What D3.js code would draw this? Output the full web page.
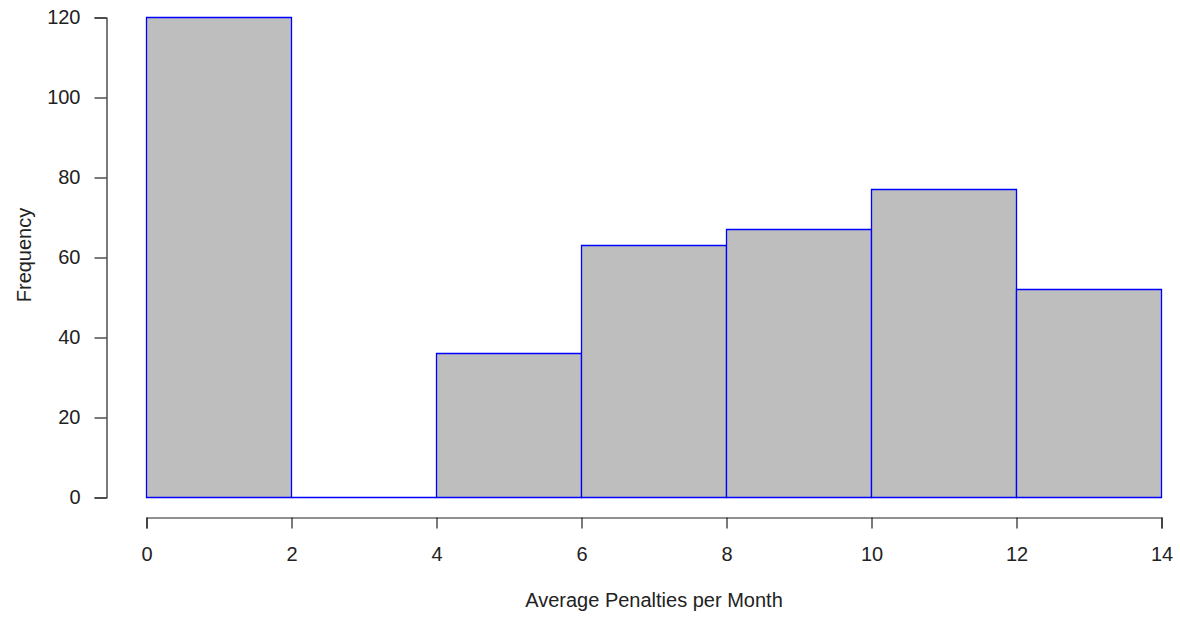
<!DOCTYPE html>
<html><head><meta charset="utf-8">
<script src="https://cdn.jsdelivr.net/npm/d3@7"></script>
<style>body{margin:0;background:#fff}svg{display:block}text{font-family:"Liberation Sans",Arial,sans-serif;fill:#222}</style>
</head><body>
<script>
const binStarts = [0, 2, 4, 6, 8, 10, 12];
const binEnds = [2, 4, 6, 8, 10, 12, 14];
const frequencies = [120, 0, 36, 63, 67, 77, 52];
const xTicks = [0, 2, 4, 6, 8, 10, 12, 14];
const yTicks = [0, 20, 40, 60, 80, 100, 120];

const W = 1180, H = 618;
const svg = d3.select("body").append("svg").attr("width", W).attr("height", H);
const x = d3.scaleLinear().domain([0, 14]).range([146.5, 1161.5]);
const y = d3.scaleLinear().domain([0, 120]).range([497.5, 17.5]);

svg.append("g").selectAll("path").data(frequencies).join("path")
  .attr("d", (d, i) => {
    const x0 = x(binStarts[i]), x1 = x(binEnds[i]), y0 = y(0), y1 = y(d);
    return `M${x0},${y0}V${y1}H${x1}V${y0}Z`;
  })
  .attr("fill", "#bebebe").attr("stroke", "#0000ff").attr("stroke-width", 1.3);

const xAxis = svg.append("g").attr("transform", "translate(0,517.5)")
  .call(d3.axisBottom(x).tickValues(xTicks).tickFormat(d3.format("d")).tickSizeOuter(0).tickSize(11).tickPadding(18));
const yAxis = svg.append("g").attr("transform", "translate(106.5,0)")
  .call(d3.axisLeft(y).tickValues(yTicks).tickFormat(d3.format("d")).tickSizeOuter(0).tickSize(12).tickPadding(14));
[xAxis, yAxis].forEach(a => {
  a.selectAll("text").style("font-size", "20px").attr("fill", "#222");
  a.selectAll("line,path").attr("stroke", "#222").attr("stroke-width", 1.2);
});

svg.append("text").attr("x", (x(0) + x(14)) / 2).attr("y", 607).attr("text-anchor", "middle")
  .style("font-size", "20px").text("Average Penalties per Month");
svg.append("text").attr("transform", "translate(31,255) rotate(-90)").attr("text-anchor", "middle")
  .style("font-size", "20px").text("Frequency");
</script>
</body></html>
